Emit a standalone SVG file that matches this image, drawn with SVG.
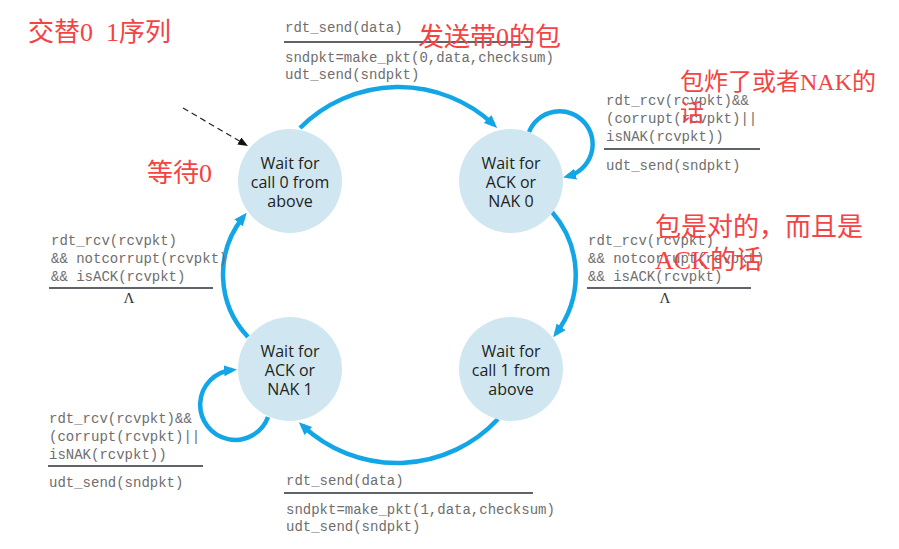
<svg xmlns="http://www.w3.org/2000/svg" width="899" height="549" viewBox="0 0 899 549">
<style>
.st{fill:#d0e7f2;stroke:none}
.nt{font-family:"Open Sans","Noto Sans",sans-serif;font-size:16px;fill:#231f20;text-anchor:middle}
.cn{fill:none;stroke:#12a6e6;stroke-width:4.5}
.mono{font-family:"Liberation Mono","DejaVu Sans Mono",monospace;font-size:14px;fill:#6e6e6e}
.rule{stroke:#2b3038;stroke-width:1.5}
.lam{font-family:"Liberation Serif",serif;font-size:15px;fill:#333;text-anchor:middle}
.red{font-family:"Liberation Serif","Noto Sans CJK SC",serif;font-size:26px;fill:#f54242;white-space:pre}
</style>
<defs>
<marker id="ab" markerUnits="userSpaceOnUse" markerWidth="14" markerHeight="12" refX="8" refY="5.5" orient="auto">
<path d="M0,0 L13,5.5 L0,11 z" fill="#12a6e6"/>
</marker>
<marker id="ak" markerUnits="userSpaceOnUse" markerWidth="11" markerHeight="9" refX="6" refY="4" orient="auto">
<path d="M0,0 L10,4 L0,8 z" fill="#111"/>
</marker>
</defs>
<rect width="899" height="549" fill="#fff"/>

<g id="connectors">
<path class="cn" d="M300,128 A139,139 0 0,1 493.5,124.5" marker-end="url(#ab)"/>
<path class="cn" d="M552,212 A96,96 0 0,1 556.2,333.2" marker-end="url(#ab)"/>
<path class="cn" d="M498,419 A138,138 0 0,1 302.5,425.6" marker-end="url(#ab)"/>
<path class="cn" d="M248,337 A91,91 0 0,1 243.6,216.7" marker-end="url(#ab)"/>
<path class="cn" d="M529,132 A33,33 0 1,1 567.9,176.2" marker-end="url(#ab)"/>
<path class="cn" d="M268,417 A35,35 0 1,1 232,370" marker-end="url(#ab)"/>
<path d="M183,108 L244.5,144" fill="none" stroke="#222" stroke-width="1.2" stroke-dasharray="6,4" marker-end="url(#ak)"/>
</g>

<g id="wait-call-0">
<circle class="st" cx="290" cy="181" r="52"/>
<text class="nt" x="290" y="169">Wait for</text>
<text class="nt" x="290" y="188">call 0 from</text>
<text class="nt" x="290" y="207">above</text>
</g>
<g id="wait-ack-0">
<circle class="st" cx="511" cy="181" r="52"/>
<text class="nt" x="511" y="169">Wait for</text>
<text class="nt" x="511" y="188">ACK or</text>
<text class="nt" x="511" y="207">NAK 0</text>
</g>
<g id="wait-call-1">
<circle class="st" cx="511" cy="369" r="52"/>
<text class="nt" x="511" y="357">Wait for</text>
<text class="nt" x="511" y="376">call 1 from</text>
<text class="nt" x="511" y="395">above</text>
</g>
<g id="wait-ack-1">
<circle class="st" cx="290" cy="369" r="52"/>
<text class="nt" x="290" y="357">Wait for</text>
<text class="nt" x="290" y="376">ACK or</text>
<text class="nt" x="290" y="395">NAK 1</text>
</g>

<g id="labels">
<text class="mono" x="285" y="32">rdt_send(data)</text>
<line class="rule" x1="284" y1="42" x2="533" y2="42"/>
<text class="mono" x="285" y="62">sndpkt=make_pkt(0,data,checksum)</text>
<text class="mono" x="285" y="79">udt_send(sndpkt)</text>

<text class="mono" x="606" y="105">rdt_rcv(rcvpkt)&amp;&amp;</text>
<text class="mono" x="606" y="123">(corrupt(rcvpkt)||</text>
<text class="mono" x="606" y="141">isNAK(rcvpkt))</text>
<line class="rule" x1="604" y1="149" x2="760" y2="149"/>
<text class="mono" x="606" y="170">udt_send(sndpkt)</text>

<text class="mono" x="588" y="245">rdt_rcv(rcvpkt)</text>
<text class="mono" x="588" y="263">&amp;&amp; notcorrupt(rcvpkt)</text>
<text class="mono" x="588" y="281">&amp;&amp; isACK(rcvpkt)</text>
<line class="rule" x1="587" y1="288" x2="751" y2="288"/>
<text class="lam" x="665" y="303">Λ</text>

<text class="mono" x="51" y="245">rdt_rcv(rcvpkt)</text>
<text class="mono" x="51" y="263">&amp;&amp; notcorrupt(rcvpkt)</text>
<text class="mono" x="51" y="281">&amp;&amp; isACK(rcvpkt)</text>
<line class="rule" x1="49" y1="288" x2="213" y2="288"/>
<text class="lam" x="129" y="303">Λ</text>

<text class="mono" x="49" y="423">rdt_rcv(rcvpkt)&amp;&amp;</text>
<text class="mono" x="49" y="441">(corrupt(rcvpkt)||</text>
<text class="mono" x="49" y="459">isNAK(rcvpkt))</text>
<line class="rule" x1="48" y1="466" x2="203" y2="466"/>
<text class="mono" x="49" y="487">udt_send(sndpkt)</text>

<text class="mono" x="286" y="485">rdt_send(data)</text>
<line class="rule" x1="284" y1="493" x2="533" y2="493"/>
<text class="mono" x="286" y="514">sndpkt=make_pkt(1,data,checksum)</text>
<text class="mono" x="286" y="531">udt_send(sndpkt)</text>
</g>

<g id="annotations">
<text class="red" x="28" y="41">交替0  1序列</text>
<text class="red" x="418" y="46">发送带0的包</text>
<text class="red" x="147" y="182">等待0</text>
<text class="red" x="680" y="90" style="font-size:24px">包炸了或者NAK的</text>
<text class="red" x="680" y="121" style="font-size:24px">话</text>
<text class="red" x="655" y="236">包是对的，而且是</text>
<text class="red" x="655" y="269">ACK的话</text>
</g>
</svg>
